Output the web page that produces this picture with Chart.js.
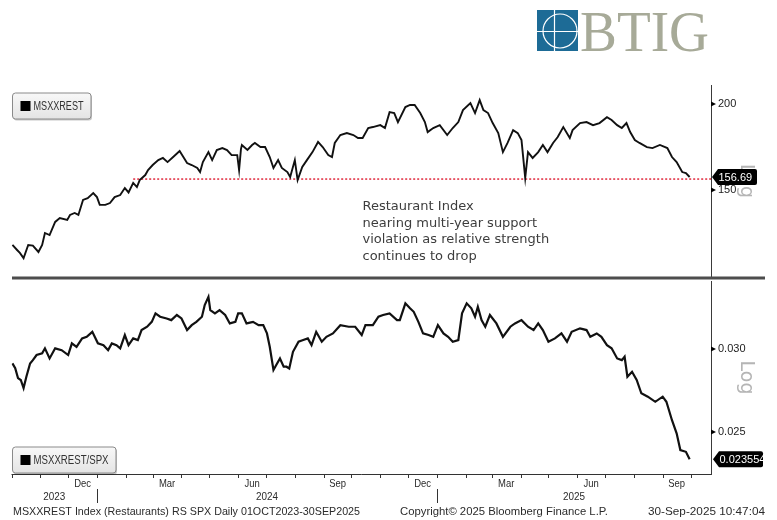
<!DOCTYPE html>
<html>
<head>
<meta charset="utf-8">
<script src="https://cdn.jsdelivr.net/npm/chart.js@4.4.1/dist/chart.umd.min.js"></script>
<style>
  html, body { margin: 0; padding: 0; background: #fff; }
  #wrap { position: relative; width: 777px; height: 520px; overflow: hidden; background: #fff; }
  #logo { position: absolute; left: 537px; top: 10px; }
  #top { position: absolute; left: 0; top: 0; }
  #bot { position: absolute; left: 0; top: 280px; }
</style>
</head>
<body>
<div id="wrap">
  <svg id="logo" width="180" height="46" viewBox="0 0 180 46">
    <defs><clipPath id="sq"><rect x="0" y="0" width="41" height="41"/></clipPath></defs>
    <rect x="0" y="0" width="41" height="41" fill="#1d6b96"/>
    <g clip-path="url(#sq)" stroke="#fff" stroke-width="1.2" fill="none">
      <circle cx="23" cy="21" r="17"/>
      <line x1="17.5" y1="0" x2="17.5" y2="41"/>
      <line x1="0" y1="21.5" x2="41" y2="21.5"/>
    </g>
    <text x="43" y="41" font-family="'Liberation Serif', serif" font-size="58" fill="#a7aa98"
          textLength="129" lengthAdjust="spacingAndGlyphs">BTIG</text>
  </svg>
  <canvas id="top" width="777" height="280"></canvas>
  <canvas id="bot" width="777" height="240"></canvas>
</div>
<script>
// days counted from 1 Oct 2023
const START = Date.UTC(2023, 9, 1);
const X_MAX = 753;

// MSXXREST index (log scale)
const idxDays = [1, 6, 9, 13, 18, 23, 29, 33, 36, 41, 47, 52, 60, 63, 68, 72, 77, 82, 88, 92,
  95, 101, 106, 111, 117, 122, 126, 131, 135, 138, 144, 147, 152, 158, 163, 168, 174, 181, 185, 189,
  194, 200, 203, 206, 212, 216, 221, 227, 232, 237, 243, 245, 247, 248, 254, 259, 262, 268, 273, 278,
  282, 287, 291, 297, 300, 305, 308, 313, 318, 324, 330, 335, 341, 345, 348, 354, 361, 368, 373, 378,
  384, 389, 397, 402, 407, 412, 416, 424, 429, 434, 440, 445, 448, 454, 461, 469, 475, 481, 486, 494,
  499, 504, 508, 513, 518, 524, 529, 534, 540, 545, 549, 553, 556, 561, 567, 572, 577, 583, 588, 594,
  601, 604, 612, 619, 626, 633, 641, 646, 652, 657, 662, 666, 671, 676, 684, 690, 698, 706, 711, 716,
  722, 726, 730];
const idxValues = [124.8, 122.7, 121.5, 119.4, 124.8, 124.5, 121.9, 124.8, 129.9, 129.0, 134.8, 136.6, 135.7, 138.0, 138.9, 138.0, 145.1, 146.0, 148.5, 146.5,
  142.7, 142.7, 143.6, 146.5, 147.5, 151.0, 148.8, 153.6, 151.5, 155.1, 157.7, 160.4, 163.1, 165.8, 167.0, 164.7, 167.5, 170.9, 167.5, 164.2,
  163.1, 161.5, 159.3, 164.7, 170.3, 165.8, 171.5, 172.6, 171.5, 168.6, 168.6, 160.4, 172.0, 174.4, 171.5, 174.4, 175.6, 173.2, 173.2, 167.5,
  161.5, 165.8, 161.5, 159.3, 156.7, 165.8, 155.1, 162.0, 165.8, 170.3, 176.2, 173.2, 168.6, 167.5, 175.6, 180.3, 181.5, 180.3, 178.5, 178.5,
  184.6, 185.2, 186.4, 184.6, 194.7, 194.1, 188.3, 198.0, 199.4, 199.4, 194.1, 188.3, 182.1, 184.6, 186.4, 180.3, 184.6, 188.3, 196.0, 200.7,
  194.1, 202.7, 196.0, 194.1, 187.7, 181.5, 170.3, 175.6, 183.3, 181.5, 177.3, 156.2, 170.3, 167.0, 170.3, 174.4, 170.3, 175.6, 179.1, 185.2,
  178.5, 183.3, 187.7, 188.3, 186.4, 187.7, 191.4, 189.6, 186.4, 184.6, 187.7, 182.1, 177.3, 175.6, 173.2, 172.6, 174.4, 172.6, 167.5, 164.7,
  159.3, 158.8, 156.69];
const idxTicks = [150, 200];
const supportStart = 131;
const supportLevel = 155.6;

// MSXXREST / SPX relative strength (log scale)
const rsDays = [1, 4, 7, 10, 13, 16, 20, 23, 27, 33, 36, 41, 47, 54, 61, 65, 70, 76, 81, 87,
  93, 99, 104, 108, 113, 117, 122, 126, 131, 136, 140, 146, 151, 155, 160, 167, 172, 178, 183, 189,
  194, 199, 205, 208, 212, 214, 219, 224, 230, 235, 241, 244, 248, 253, 260, 266, 271, 275, 278, 282,
  285, 289, 293, 296, 299, 303, 309, 314, 319, 323, 328, 334, 339, 346, 354, 363, 370, 377, 381, 389,
  395, 400, 407, 415, 418, 424, 429, 433, 438, 443, 449, 454, 459, 465, 470, 475, 481, 485, 490, 495,
  499, 502, 506, 510, 515, 522, 529, 537, 542, 549, 556, 562, 567, 572, 578, 585, 592, 598, 603, 612,
  619, 623, 630, 635, 641, 646, 652, 657, 660, 663, 668, 673, 678, 685, 693, 701, 705, 711, 716, 720,
  726, 730];
const rsValues = [0.02907, 0.02877, 0.02815, 0.02803, 0.02754, 0.02823, 0.02907, 0.02928, 0.02961, 0.02972, 0.03005, 0.02939, 0.03005, 0.02993, 0.02961, 0.03038, 0.03015, 0.03071, 0.03082, 0.03116,
  0.03038, 0.03026, 0.02993, 0.03038, 0.03026, 0.03005, 0.03094, 0.03026, 0.03071, 0.03060, 0.03128, 0.03151, 0.03185, 0.03245, 0.03221, 0.03209, 0.03197, 0.03233, 0.03209, 0.03128,
  0.03162, 0.03185, 0.03221, 0.03305, 0.03365, 0.03268, 0.03245, 0.03268, 0.03233, 0.03174, 0.03185, 0.03245, 0.03245, 0.03174, 0.03185, 0.03162, 0.03162, 0.03105, 0.03015, 0.02865,
  0.02897, 0.02939, 0.02886, 0.02886, 0.02875, 0.02982, 0.03049, 0.03060, 0.03071, 0.03026, 0.03116, 0.03049, 0.03082, 0.03105, 0.03162, 0.03151, 0.03151, 0.03094, 0.03162, 0.03162,
  0.03221, 0.03233, 0.03245, 0.03197, 0.03197, 0.03317, 0.03281, 0.03256, 0.03185, 0.03105, 0.03094, 0.03082, 0.03162, 0.03105, 0.03082, 0.03049, 0.03060, 0.03245, 0.03317, 0.03281,
  0.03221, 0.03292, 0.03197, 0.03151, 0.03233, 0.03174, 0.03082, 0.03151, 0.03174, 0.03197, 0.03151, 0.03128, 0.03174, 0.03128, 0.03049, 0.03071, 0.03105, 0.03049, 0.03116, 0.03140,
  0.03128, 0.03082, 0.03105, 0.03082, 0.03026, 0.03005, 0.02939, 0.02928, 0.02950, 0.02823, 0.02854, 0.02803, 0.02722, 0.02702, 0.02672, 0.02702, 0.02672, 0.02566, 0.02493, 0.02403,
  0.02394, 0.023554];
const rsTicks = [0.025, 0.030];

// x axis labels
const quarterLabels = [["Dec", 2023, 11], ["Mar", 2024, 2], ["Jun", 2024, 5], ["Sep", 2024, 8],
  ["Dec", 2024, 11], ["Mar", 2025, 2], ["Jun", 2025, 5], ["Sep", 2025, 8]];
const yearLabels = [2023, 2024, 2025];
const footerLeft = "MSXXREST Index (Restaurants) RS SPX Daily 01OCT2023-30SEP2025";
const footerMid = "Copyright\u00a9 2025 Bloomberg Finance L.P.";
const footerRight = "30-Sep-2025 10:47:04";
const noteLines = ["Restaurant Index", "nearing multi-year support", "violation as relative strength", "continues to drop"];

const FONT = "'Liberation Sans', Arial, sans-serif";
const dayOf = (y, m, d) => Math.round((Date.UTC(y, m, d) - START) / 864e5);

function squeeze(ctx, s, x, y, sx, align) {
  ctx.save();
  ctx.translate(x, y);
  ctx.scale(sx, 1);
  ctx.textAlign = align || "left";
  ctx.fillText(s, 0, 0);
  ctx.restore();
}

function fitText(ctx, s, x, y, w) {
  squeeze(ctx, s, x, y, w / ctx.measureText(s).width, "left");
}

function tickMarks(ctx, scale, values) {
  ctx.fillStyle = "#000";
  values.forEach((v) => {
    const y = scale.getPixelForValue(v);
    ctx.beginPath();
    ctx.moveTo(scale.left, y - 2.5);
    ctx.lineTo(scale.left + 5, y);
    ctx.lineTo(scale.left, y + 2.5);
    ctx.fill();
  });
}

function logLabel(ctx, x, y) {
  ctx.save();
  ctx.translate(x, y);
  ctx.rotate(Math.PI / 2);
  ctx.font = "19px 'DejaVu Sans'";
  ctx.fillStyle = "#b5b5b5";
  ctx.textAlign = "center";
  ctx.textBaseline = "middle";
  ctx.fillText("Log", 0, 0);
  ctx.restore();
}

function valueTag(ctx, x, y, w, text) {
  ctx.save();
  ctx.fillStyle = "#000";
  ctx.beginPath();
  ctx.moveTo(x, y);
  ctx.lineTo(x + 6, y - 8);
  ctx.lineTo(x + w - 2, y - 8);
  ctx.quadraticCurveTo(x + w, y - 8, x + w, y - 6);
  ctx.lineTo(x + w, y + 6);
  ctx.quadraticCurveTo(x + w, y + 8, x + w - 2, y + 8);
  ctx.lineTo(x + 6, y + 8);
  ctx.closePath();
  ctx.fill();
  ctx.fillStyle = "#fff";
  ctx.font = "11px " + FONT;
  ctx.textBaseline = "middle";
  ctx.textAlign = "left";
  ctx.fillText(text, x + 6.5, y + 0.5);
  ctx.restore();
}

function legendBox(ctx, x, y, w, h, label, textW) {
  ctx.save();
  ctx.fillStyle = "rgba(0,0,0,0.22)";
  ctx.beginPath();
  ctx.roundRect(x + 1, y + 1.5, w, h, 3);
  ctx.fill();
  const g = ctx.createLinearGradient(0, y, 0, y + h);
  g.addColorStop(0, "#f8f8f8");
  g.addColorStop(1, "#e4e4e4");
  ctx.fillStyle = g;
  ctx.beginPath();
  ctx.roundRect(x, y, w, h, 3);
  ctx.fill();
  ctx.strokeStyle = "#8a8a8a";
  ctx.lineWidth = 1;
  ctx.stroke();
  ctx.fillStyle = "#000";
  ctx.fillRect(x + 8, y + 8, 10, 10);
  ctx.fillStyle = "#333";
  ctx.font = "12px " + FONT;
  ctx.textBaseline = "middle";
  fitText(ctx, label, x + 21, y + h / 2 + 0.5, textW);
  ctx.restore();
}

function yScale(min, max, ticks, fmt) {
  return {
    type: "logarithmic",
    position: "right",
    min,
    max,
    afterBuildTicks: (s) => { s.ticks = ticks.map((v) => ({ value: v })); },
    afterFit: (s) => { s.width = 66; s.paddingTop = 0; s.paddingBottom = 0; },
    grid: { display: false, drawTicks: true, tickLength: 5 },
    border: { display: true, color: "#3a3a3a", width: 1 },
    ticks: { color: "#222", font: { family: "Liberation Sans", size: 11 }, padding: 2, callback: fmt },
  };
}

const topDecor = {
  id: "topDecor",
  afterDraw(chart) {
    const { ctx } = chart;
    const ys = chart.scales.y;
    tickMarks(ctx, ys, idxTicks);
    logLabel(ctx, 746, (ys.top + ys.bottom) / 2);
    const last = idxValues[idxValues.length - 1];
    valueTag(ctx, 712, ys.getPixelForValue(last), 45, last.toFixed(2));
    ctx.fillStyle = "#4d4d4d";
    ctx.fillRect(12, 276.5, 753, 3);
    legendBox(ctx, 12.5, 93, 78.5, 26, "MSXXREST", 50);
    ctx.save();
    ctx.fillStyle = "#3d3d3d";
    ctx.font = "13px 'DejaVu Sans'";
    ctx.textBaseline = "alphabetic";
    noteLines.forEach((s, i) => ctx.fillText(s, 362.5, 210 + i * 16.5));
    ctx.restore();
  },
};

const botDecor = {
  id: "botDecor",
  afterDraw(chart) {
    const { ctx } = chart;
    const ys = chart.scales.y;
    const xs = chart.scales.x;
    tickMarks(ctx, ys, rsTicks);
    logLabel(ctx, 746, (ys.top + ys.bottom) / 2);
    const last = rsValues[rsValues.length - 1];
    valueTag(ctx, 713, ys.getPixelForValue(last), 50, String(last));

    const base = ys.bottom;
    ctx.save();
    ctx.strokeStyle = "#333";
    ctx.lineWidth = 1;
    ctx.beginPath();
    ctx.moveTo(xs.left, base + 0.5);
    ctx.lineTo(xs.right, base + 0.5);
    for (let y = 2023, m = 9; y < 2026; m++) {
      if (m > 11) { m = 0; y++; }
      const d = dayOf(y, m, 1);
      if (d > X_MAX) break;
      const px = Math.round(xs.getPixelForValue(d)) + 0.5;
      ctx.moveTo(px, base);
      ctx.lineTo(px, base + 4);
      if (m === 0) {
        ctx.moveTo(px, base + 15);
        ctx.lineTo(px, base + 29);
      }
    }
    ctx.stroke();

    ctx.fillStyle = "#2b2b2b";
    ctx.font = "11px " + FONT;
    ctx.textBaseline = "middle";
    quarterLabels.forEach(([lab, y, m]) => {
      const mid = (dayOf(y, m, 1) + dayOf(y, m + 1, 1)) / 2;
      squeeze(ctx, lab, xs.getPixelForValue(mid), base + 9.5, 0.86, "center");
    });
    yearLabels.forEach((y) => {
      const a = Math.max(0, dayOf(y, 0, 1));
      const b = Math.min(X_MAX, dayOf(y + 1, 0, 1));
      squeeze(ctx, String(y), xs.getPixelForValue((a + b) / 2), base + 23, 0.9, "center");
    });
    fitText(ctx, footerLeft, 13, base + 38, 347);
    fitText(ctx, footerMid, 400, base + 38, 208);
    fitText(ctx, footerRight, 648, base + 38, 117);
    ctx.restore();

    legendBox(ctx, 12.5, 167, 103.5, 26, "MSXXREST/SPX", 75);
  },
};

new Chart(document.getElementById("top"), {
  type: "line",
  data: {
    datasets: [
      {
        data: idxDays.map((d, i) => ({ x: d, y: idxValues[i] })),
        borderColor: "#111",
        borderWidth: 1.9,
        pointRadius: 0,
        tension: 0,
      },
      {
        data: [{ x: supportStart, y: supportLevel }, { x: X_MAX, y: supportLevel }],
        borderColor: "#e0283c",
        borderWidth: 1.5,
        borderDash: [2, 2],
        pointRadius: 0,
      },
    ],
  },
  options: {
    responsive: false,
    animation: false,
    layout: { padding: { left: 11.5, right: 0, top: 85, bottom: 3 } },
    plugins: { legend: { display: false }, tooltip: { enabled: false } },
    scales: {
      x: { type: "linear", min: 0, max: X_MAX, display: false },
      y: yScale(112.1, 213.2, idxTicks, (v) => String(v)),
    },
  },
  plugins: [topDecor],
});

new Chart(document.getElementById("bot"), {
  type: "line",
  data: {
    datasets: [
      {
        data: rsDays.map((d, i) => ({ x: d, y: rsValues[i] })),
        borderColor: "#111",
        borderWidth: 2.2,
        pointRadius: 0,
        tension: 0,
      },
    ],
  },
  options: {
    responsive: false,
    animation: false,
    layout: { padding: { left: 11.5, right: 0, top: 1, bottom: 46 } },
    plugins: { legend: { display: false }, tooltip: { enabled: false } },
    scales: {
      x: { type: "linear", min: 0, max: X_MAX, display: false },
      y: yScale(0.0228, 0.03484, rsTicks, (v) => Number(v).toFixed(3)),
    },
  },
  plugins: [botDecor],
});
</script>
</body>
</html>
